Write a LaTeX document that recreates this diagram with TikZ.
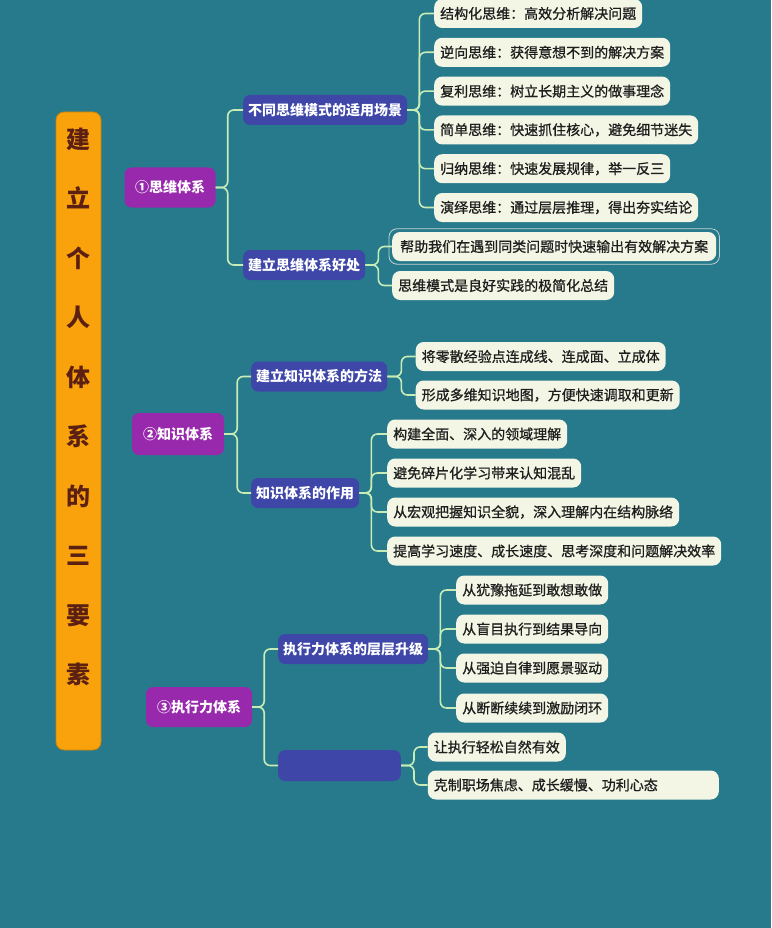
\documentclass[tikz,border=0pt]{standalone}
\usepackage{fontspec}
\newfontfamily\cjk{Noto Sans CJK SC}
\newfontfamily\cjkmid[FakeBold=0.8]{Noto Sans CJK SC}
\usepackage{xcolor}

\definecolor{bgteal}{RGB}{38,122,140}
\definecolor{barorange}{RGB}{250,162,12}
\definecolor{titlebrown}{RGB}{92,32,18}
\definecolor{topicpurple}{RGB}{152,40,172}
\definecolor{subblue}{RGB}{62,70,168}
\definecolor{leafcream}{RGB}{243,246,228}
\definecolor{leaftext}{RGB}{30,30,30}
\definecolor{linkgreen}{RGB}{200,236,182}

\begin{document}
\begin{tikzpicture}[x=1pt,y=-1pt,
  topic/.style={font=\cjk\fontsize{14}{16}\selectfont\bfseries, fill=topicpurple, text=white, rounded corners=7pt, inner sep=0pt, minimum height=40pt},
  sub/.style={anchor=west, font=\cjk\fontsize{14}{16}\selectfont\bfseries, fill=subblue, text=white, rounded corners=7pt, inner xsep=5pt, inner ysep=0pt, minimum height=30pt},
  leaf/.style={anchor=west, font=\cjkmid\fontsize{14}{16}\selectfont, fill=leafcream, text=leaftext, rounded corners=8pt, inner xsep=6pt, inner ysep=0pt, minimum height=29pt},
  link/.style={draw=linkgreen, line width=1.6pt, rounded corners=6pt}
]
    % Background
    \fill[bgteal] (0,0) rectangle (771,928);
    \useasboundingbox (0,0) rectangle (771,928);

    % Title bar
    \node[fill=barorange, draw=barorange!80!black, line width=0.8pt, rounded corners=8pt, minimum width=45pt, minimum height=638pt, inner sep=0pt] (title) at (78.5,431) {};
    \node[font=\cjk\fontsize{24}{59.5}\selectfont\bfseries, text=titlebrown, align=center, inner sep=0pt] (titletext) at (78.5,406.75) {建\\立\\个\\人\\体\\系\\的\\三\\要\\素};

    % First branch - thinking
    \node[topic, minimum width=91pt] (think) at (170,187.5) {①思维体系};
    \node[sub] (thinkuse) at (243,110) {不同思维模式的适用场景};
    \node[sub] (thinkgain) at (243,265) {建立思维体系好处};

    \node[leaf] (use1) at (434,13.5) {结构化思维：高效分析解决问题};
    \node[leaf] (use2) at (434,52.3) {逆向思维：获得意想不到的解决方案};
    \node[leaf] (use3) at (434,91.1) {复利思维：树立长期主义的做事理念};
    \node[leaf] (use4) at (434,129.9) {简单思维：快速抓住核心，避免细节迷失};
    \node[leaf] (use5) at (434,168.7) {归纳思维：快速发展规律，举一反三};
    \node[leaf] (use6) at (434,207.5) {演绎思维：通过层层推理，得出夯实结论};

    \node[leaf, inner xsep=8pt] (gain1) at (392,246.5) {帮助我们在遇到同类问题时快速输出有效解决方案};
    \node[leaf] (gain2) at (392,285.5) {思维模式是良好实践的极简化总结};
    % selection frame
    \draw[draw={rgb,255:red,196;green,212;blue,206}, line width=0.8pt, rounded corners=8pt] ([shift={(-3pt,3pt)}]gain1.north west) rectangle ([shift={(3pt,-3pt)}]gain1.south east);

    % Second branch - knowledge
    \node[topic, minimum width=92pt, minimum height=42pt] (know) at (178,434) {②知识体系};
    \node[sub] (knowway) at (251,376.5) {建立知识体系的方法};
    \node[sub] (knowrole) at (251,493) {知识体系的作用};

    \node[leaf] (way1) at (415.5,356.5) {将零散经验点连成线、连成面、立成体};
    \node[leaf] (way2) at (415.5,395) {形成多维知识地图，方便快速调取和更新};

    \node[leaf] (role1) at (387,434) {构建全面、深入的领域理解};
    \node[leaf] (role2) at (387,473) {避免碎片化学习带来认知混乱};
    \node[leaf] (role3) at (387,512) {从宏观把握知识全貌，深入理解内在结构脉络};
    \node[leaf] (role4) at (387,551) {提高学习速度、成长速度、思考深度和问题解决效率};

    % Third branch - execution
    \node[topic, minimum width=106pt] (act) at (199,707) {③执行力体系};
    \node[sub] (actstep) at (278,649) {执行力体系的层层升级};
    \node[sub, minimum width=122.6pt, minimum height=31pt] (actgain) at (278,765.5) {};

    \node[leaf] (step1) at (456,590) {从犹豫拖延到敢想敢做};
    \node[leaf] (step2) at (456,629) {从盲目执行到结果导向};
    \node[leaf] (step3) at (456,668) {从强迫自律到愿景驱动};
    \node[leaf] (step4) at (456,708) {从断断续续到激励闭环};

    \node[leaf] (easy1) at (427.6,747) {让执行轻松自然有效};
    \node[leaf, text width=279pt, align=left] (easy2) at (427.6,785) {克制职场焦虑、成长缓慢、功利心态};

    % Links from topics to subtopics
    \draw[link] (think.east) -- ++(12,0) |- (thinkuse.west);
    \draw[link] (think.east) -- ++(12,0) |- (thinkgain.west);
    \draw[link] (know.east) -- ++(13,0) |- (knowway.west);
    \draw[link] (know.east) -- ++(13,0) |- (knowrole.west);
    \draw[link] (act.east) -- ++(12,0) |- (actstep.west);
    \draw[link] (act.east) -- ++(12,0) |- (actgain.west);

    % Links from subtopics to leaves
    \draw[link] (thinkuse.east) -- ++(12,0) |- (use1.west);
    \draw[link] (thinkuse.east) -- ++(12,0) |- (use2.west);
    \draw[link] (thinkuse.east) -- ++(12,0) |- (use3.west);
    \draw[link] (thinkuse.east) -- ++(12,0) |- (use4.west);
    \draw[link] (thinkuse.east) -- ++(12,0) |- (use5.west);
    \draw[link] (thinkuse.east) -- ++(12,0) |- (use6.west);
    \draw[link] (thinkgain.east) -- ++(13,0) |- (gain1.west);
    \draw[link] (thinkgain.east) -- ++(13,0) |- (gain2.west);

    \draw[link] (knowway.east) -- ++(14,0) |- (way1.west);
    \draw[link] (knowway.east) -- ++(14,0) |- (way2.west);
    \draw[link] (knowrole.east) -- ++(12,0) |- (role1.west);
    \draw[link] (knowrole.east) -- ++(12,0) |- (role2.west);
    \draw[link] (knowrole.east) -- ++(12,0) |- (role3.west);
    \draw[link] (knowrole.east) -- ++(12,0) |- (role4.west);

    \draw[link] (actstep.east) -- ++(12,0) |- (step1.west);
    \draw[link] (actstep.east) -- ++(12,0) |- (step2.west);
    \draw[link] (actstep.east) -- ++(12,0) |- (step3.west);
    \draw[link] (actstep.east) -- ++(12,0) |- (step4.west);
    \draw[link] (actgain.east) -- ++(13,0) |- (easy1.west);
    \draw[link] (actgain.east) -- ++(13,0) |- (easy2.west);
\end{tikzpicture}
\end{document}
